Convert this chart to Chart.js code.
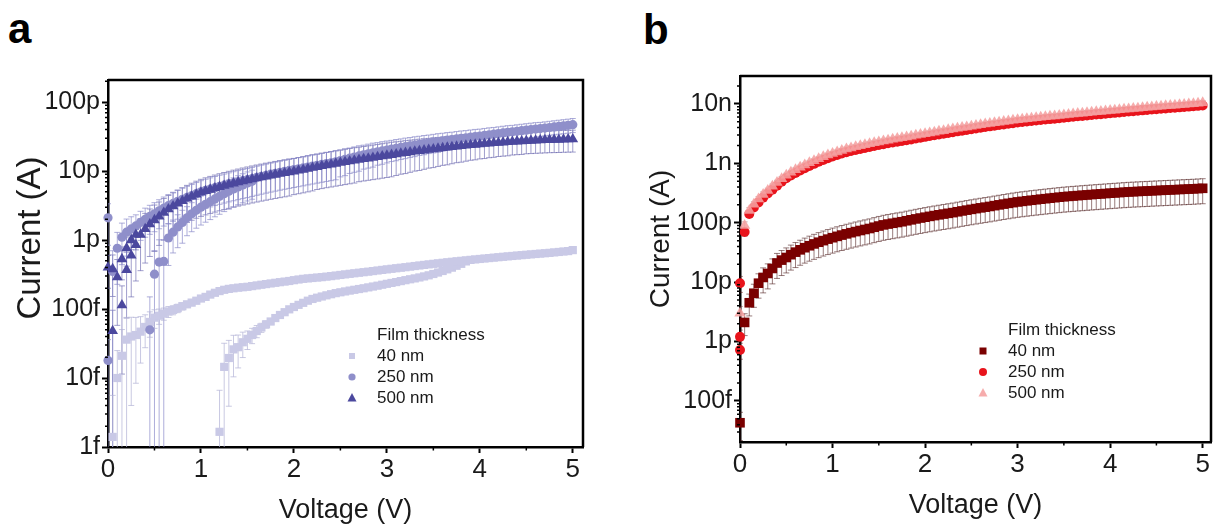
<!DOCTYPE html>
<html>
<head>
<meta charset="utf-8">
<script src="https://cdn.jsdelivr.net/npm/chart.js@4.4.1/dist/chart.umd.min.js"></script>
<style>
  body { margin: 0; background: #fff; width: 1213px; height: 527px; overflow: hidden; position: relative;
         font-family: "Liberation Sans", Arial, sans-serif; }
  .panel { position: absolute; top: 0; }
  .tag { position: absolute; font-weight: bold; font-size: 42px; line-height: 42px; color: #000; }
</style>
</head>
<body>
<div class="tag" style="left:8px;top:8px">a</div>
<div class="tag" style="left:643px;top:9px">b</div>
<div class="panel" style="left:0px"><canvas id="chartA" width="600" height="527"></canvas></div>
<div class="panel" style="left:607px"><canvas id="chartB" width="606" height="527"></canvas></div>
<script>
// spänning (V), samma för alla huvudserier
const voltage = [
  0, 0.05, 0.1, 0.15, 0.2, 0.25, 0.3, 0.35, 0.4, 0.45,
  0.5, 0.55, 0.6, 0.65, 0.7, 0.75, 0.8, 0.85, 0.9, 0.95,
  1, 1.05, 1.1, 1.15, 1.2, 1.25, 1.3, 1.35, 1.4, 1.45,
  1.5, 1.55, 1.6, 1.65, 1.7, 1.75, 1.8, 1.85, 1.9, 1.95,
  2, 2.05, 2.1, 2.15, 2.2, 2.25, 2.3, 2.35, 2.4, 2.45,
  2.5, 2.55, 2.6, 2.65, 2.7, 2.75, 2.8, 2.85, 2.9, 2.95,
  3, 3.05, 3.1, 3.15, 3.2, 3.25, 3.3, 3.35, 3.4, 3.45,
  3.5, 3.55, 3.6, 3.65, 3.7, 3.75, 3.8, 3.85, 3.9, 3.95,
  4, 4.05, 4.1, 4.15, 4.2, 4.25, 4.3, 4.35, 4.4, 4.45,
  4.5, 4.55, 4.6, 4.65, 4.7, 4.75, 4.8, 4.85, 4.9, 4.95,
  5
];

// Panel a, ström i pA
const a40 = [
  null, 0.0014, 0.010, 0.021, 0.036, 0.040, 0.042, 0.047, 0.055, 0.065,
  0.075, 0.080, 0.086, 0.092, 0.097, 0.103, 0.110, 0.117, 0.124, 0.132,
  0.142, 0.150, 0.162, 0.172, 0.182, 0.190, 0.196, 0.200, 0.204, 0.207,
  0.210, 0.215, 0.220, 0.225, 0.230, 0.235, 0.240, 0.245, 0.250, 0.255,
  0.262, 0.268, 0.274, 0.278, 0.282, 0.286, 0.290, 0.295, 0.300, 0.306,
  0.312, 0.318, 0.324, 0.330, 0.336, 0.342, 0.348, 0.355, 0.362, 0.369,
  0.376, 0.383, 0.390, 0.397, 0.404, 0.412, 0.420, 0.428, 0.436, 0.444,
  0.452, 0.460, 0.468, 0.476, 0.484, 0.492, 0.500, 0.508, 0.516, 0.524,
  0.532, 0.540, 0.548, 0.556, 0.564, 0.572, 0.580, 0.588, 0.596, 0.604,
  0.612, 0.620, 0.628, 0.636, 0.644, 0.652, 0.662, 0.672, 0.682, 0.692,
  0.715
];
const a40Err = [ // relativ felmarginal i %
  0, 300, 150, 140, 110, 90, 80, 65, 50, 40,
  30, 25, 20, 18, 15, 14, 12, 10, 10, 10,
  8, 8, 8, 8, 8, 8, 8, 8, 8, 8,
  6, 6, 6, 6, 6, 6, 6, 6, 6, 6,
  6, 6, 6, 6, 6, 6, 6, 6, 6, 6,
  6, 6, 6, 6, 6, 6, 6, 6, 6, 6,
  6, 6, 6, 6, 6, 6, 6, 6, 6, 6,
  6, 6, 6, 6, 6, 6, 6, 6, 6, 6,
  6, 6, 6, 6, 6, 6, 6, 6, 6, 6,
  6, 6, 6, 6, 6, 6, 6, 6, 6, 6,
  6
];
// andra svepet (nedre grenen) för 40 nm
const a40RetV = [
  1.2, 1.25, 1.3, 1.35, 1.4, 1.45,
  1.5, 1.55, 1.6, 1.65, 1.7, 1.75, 1.8, 1.85, 1.9, 1.95,
  2, 2.05, 2.1, 2.15, 2.2, 2.25, 2.3, 2.35, 2.4, 2.45,
  2.5, 2.55, 2.6, 2.65, 2.7, 2.75, 2.8, 2.85, 2.9, 2.95,
  3, 3.05, 3.1, 3.15, 3.2, 3.25, 3.3, 3.35, 3.4, 3.45,
  3.5, 3.55, 3.6, 3.65, 3.7, 3.75, 3.8, 3.85
];
const a40RetI = [
  0.00166, 0.0145, 0.0195, 0.026, 0.028, 0.033,
  0.037, 0.042, 0.048, 0.054, 0.060, 0.066, 0.074, 0.082, 0.090, 0.099,
  0.107, 0.115, 0.123, 0.132, 0.140, 0.146, 0.152, 0.158, 0.164, 0.170,
  0.175, 0.180, 0.185, 0.190, 0.195, 0.200, 0.206, 0.212, 0.218, 0.225,
  0.232, 0.239, 0.246, 0.254, 0.262, 0.270, 0.278, 0.287, 0.297, 0.308,
  0.322, 0.338, 0.356, 0.376, 0.398, 0.424, 0.452, 0.490
];
const a40RetErr = [
  300, 120, 80, 60, 50, 40,
  30, 25, 20, 15, 12, 10, 10, 8, 8, 8,
  6, 6, 6, 6, 6, 6, 6, 6, 6, 6,
  6, 6, 6, 6, 6, 6, 6, 6, 6, 6,
  6, 6, 6, 6, 6, 6, 6, 6, 6, 6,
  6, 6, 6, 6, 6, 6, 6, 6
];

const a250 = [
  2.1, 0.35, 0.76, 1.1, 1.3, 1.45, 1.6, 1.8, 2.0, 2.2,
  2.4, 2.65, 2.9, 3.15, 3.4, 3.65, 3.9, 4.15, 4.4, 4.7,
  5.0, 5.25, 5.5, 5.75, 6.0, 6.25, 6.5, 6.75, 7.0, 7.25,
  7.5, 7.8, 8.1, 8.4, 8.7, 9.0, 9.3, 9.6, 9.9, 10.2,
  10.5, 10.8, 11.1, 11.45, 11.8, 12.15, 12.5, 12.85, 13.2, 13.6,
  14.2, 14.8, 15.4, 16.0, 16.6, 17.2, 17.8, 18.4, 19.0, 19.6,
  20.2, 20.8, 21.4, 22.0, 22.6, 23.2, 23.8, 24.4, 25.0, 25.6,
  26.2, 26.8, 27.4, 28.0, 28.6, 29.2, 29.8, 30.4, 31.0, 31.6,
  32.2, 32.9, 33.6, 34.3, 35.0, 35.7, 36.4, 37.1, 37.8, 38.5,
  39.2, 39.9, 40.6, 41.3, 42.0, 42.8, 43.6, 44.4, 45.2, 46.0,
  47.0
];
const a250Err = [
  60, 100, 70, 60, 55, 50, 45, 45, 45, 45,
  45, 45, 45, 45, 45, 45, 45, 45, 45, 45,
  45, 45, 45, 45, 45, 45, 45, 45, 45, 45,
  45, 45, 45, 45, 45, 45, 45, 45, 45, 45,
  45, 45, 45, 45, 45, 45, 45, 45, 45, 45,
  42, 42, 40, 40, 40, 38, 38, 38, 36, 36,
  35, 34, 34, 33, 33, 32, 32, 31, 31, 30,
  30, 30, 29, 29, 28, 28, 28, 27, 27, 27,
  26, 26, 26, 25, 25, 25, 25, 24, 24, 24,
  24, 24, 24, 23, 23, 23, 23, 23, 23, 23,
  23
];
const a250RetV = [0, 0.45, 0.5, 0.55, 0.6, 0.65, 0.7, 0.75, 0.8, 0.85, 0.9, 0.95,
  1, 1.05, 1.1, 1.15, 1.2, 1.25, 1.3, 1.35, 1.4, 1.45, 1.5, 1.55];
const a250RetI = [0.018, 0.05, 0.32, 0.48, 0.49, 1.07, 1.3, 1.55, 1.8, 2.1, 2.4, 2.7,
  3.0, 3.3, 3.6, 3.95, 4.3, 4.7, 5.1, 5.5, 5.9, 6.3, 6.7, 7.1];
const a250RetErr = [100, 200, 120, 110, 105, 60, 50, 50, 50, 45, 45, 45,
  45, 45, 45, 45, 45, 45, 45, 45, 45, 45, 45, 45];

const a500 = [
  0.40, 0.048, 0.29, 0.114, 0.37, 0.60, 0.85, 1.2, 1.45, 1.7,
  1.95, 2.2, 2.5, 2.8, 3.1, 3.4, 3.7, 4.0, 4.3, 4.6,
  4.9, 5.15, 5.4, 5.65, 5.9, 6.15, 6.4, 6.65, 6.9, 7.15,
  7.4, 7.65, 7.9, 8.15, 8.4, 8.65, 8.9, 9.15, 9.4, 9.65,
  9.9, 10.2, 10.5, 10.85, 11.2, 11.5, 11.85, 12.2, 12.5, 12.85,
  13.2, 13.55, 13.9, 14.25, 14.6, 14.95, 15.3, 15.65, 16.0, 16.4,
  16.8, 17.2, 17.6, 18.0, 18.4, 18.8, 19.2, 19.6, 20.0, 20.4,
  20.8, 21.2, 21.6, 22.0, 22.4, 22.8, 23.2, 23.55, 23.9, 24.25,
  24.6, 24.9, 25.2, 25.5, 25.8, 26.1, 26.4, 26.7, 27.0, 27.2,
  27.4, 27.6, 27.8, 28.0, 28.2, 28.4, 28.5, 28.6, 28.8, 28.9,
  29.0
];
const a500Err = [
  50, 100, 80, 90, 80, 75, 70, 70, 68, 66,
  65, 62, 60, 58, 56, 55, 55, 55, 55, 55,
  55, 55, 55, 55, 55, 55, 55, 55, 55, 55,
  55, 55, 55, 55, 55, 55, 55, 55, 55, 55,
  54, 54, 54, 54, 54, 53, 53, 53, 53, 53,
  53, 53, 53, 53, 52, 52, 52, 52, 52, 52,
  52, 52, 51, 50, 50, 49, 48, 48, 47, 46,
  46, 45, 44, 44, 43, 42, 42, 41, 40, 40,
  39, 39, 38, 38, 37, 37, 37, 36, 36, 36,
  35, 35, 35, 35, 35, 35, 35, 35, 35, 35,
  35
];
const a500RetV = [0.05, 0.15, 0.2, 0.25, 0.3];
const a500RetI = [0.38, 0.53, 0.76, 1.0, 1.2];
const a500RetErr = [60, 50, 45, 40, 40];

// Panel b, ström i pA
const b40 = [
  0.043, 2.1, 4.5, 6.5, 9.6, 12, 14, 17, 21, 23.5,
  26, 29, 32, 35, 38, 41, 44, 47, 50, 53,
  56, 59, 62, 65, 68, 71, 74, 77, 80, 84,
  88, 92, 95, 98, 101, 104, 108, 112, 116, 120,
  124, 128, 132, 136, 140, 144, 148, 153, 158, 163,
  168, 173, 178, 183, 188, 194, 200, 206, 212, 218,
  224, 229, 234, 239, 244, 249, 254, 259, 264, 269,
  274, 278, 282, 286, 290, 294, 298, 302, 306, 310,
  314, 318, 322, 326, 330, 333, 336, 339, 342, 345,
  348, 351, 354, 357, 360, 363, 366, 369, 372, 376,
  380
];
const b40Err = [
  50, 40, 40, 42, 44, 45, 45, 45, 45, 45,
  45, 45, 45, 45, 45, 45, 45, 45, 45, 45,
  45, 45, 45, 45, 45, 45, 45, 45, 45, 45,
  45, 45, 45, 45, 45, 45, 45, 45, 45, 45,
  45, 45, 45, 45, 45, 45, 45, 45, 45, 45,
  45, 45, 45, 45, 45, 45, 45, 45, 45, 45,
  45, 45, 45, 45, 45, 45, 45, 45, 45, 45,
  45, 45, 45, 45, 45, 45, 45, 45, 45, 45,
  45, 45, 45, 45, 45, 45, 45, 45, 45, 45,
  45, 45, 45, 45, 45, 45, 45, 45, 45, 45,
  45
];
const b250 = [
  0.72, 70, 140, 180, 220, 265, 310, 360, 420, 490,
  560, 625, 690, 760, 830, 900, 980, 1060, 1140, 1220,
  1300, 1380, 1460, 1540, 1610, 1680, 1750, 1820, 1890, 1960,
  2030, 2100, 2170, 2240, 2310, 2380, 2450, 2530, 2610, 2700,
  2790, 2880, 2970, 3060, 3150, 3250, 3350, 3450, 3550, 3650,
  3750, 3860, 3970, 4080, 4190, 4300, 4410, 4520, 4630, 4740,
  4850, 4950, 5050, 5150, 5250, 5350, 5450, 5550, 5650, 5750,
  5850, 5960, 6070, 6180, 6290, 6400, 6510, 6620, 6730, 6840,
  6950, 7070, 7190, 7310, 7430, 7550, 7670, 7790, 7910, 8030,
  8150, 8270, 8390, 8510, 8630, 8750, 8880, 9010, 9140, 9270,
  9400
];
const b250Err = [
  30, 15, 12, 10, 10, 10, 9, 9, 9, 9,
  8, 8, 8, 8, 8, 8, 8, 8, 8, 8,
  8, 8, 8, 8, 8, 8, 8, 8, 8, 8,
  8, 8, 8, 8, 8, 8, 8, 8, 8, 8,
  8, 8, 8, 8, 8, 8, 8, 8, 8, 8,
  8, 8, 8, 8, 8, 8, 8, 8, 8, 8,
  8, 8, 8, 8, 8, 8, 8, 8, 8, 8,
  8, 8, 8, 8, 8, 8, 8, 8, 8, 8,
  8, 8, 8, 8, 8, 8, 8, 8, 8, 8,
  8, 8, 8, 8, 8, 8, 8, 8, 8, 8,
  8
];
const b250RetV = [0, 0];
const b250RetI = [9.6, 1.2];
const b250RetErr = [30, 30];
const b500 = [
  3.0, 90, 160, 205, 250, 300, 350, 410, 475, 550,
  630, 705, 780, 860, 940, 1020, 1105, 1195, 1285, 1375,
  1465, 1555, 1645, 1735, 1815, 1895, 1975, 2055, 2135, 2215,
  2295, 2375, 2455, 2535, 2615, 2695, 2775, 2865, 2955, 3050,
  3150, 3250, 3350, 3450, 3550, 3660, 3770, 3880, 3990, 4100,
  4210, 4330, 4450, 4570, 4690, 4810, 4930, 5050, 5170, 5290,
  5410, 5520, 5630, 5740, 5850, 5960, 6070, 6180, 6290, 6400,
  6510, 6630, 6750, 6870, 6990, 7110, 7230, 7350, 7470, 7590,
  7710, 7840, 7970, 8100, 8230, 8360, 8490, 8620, 8750, 8880,
  9010, 9140, 9270, 9400, 9530, 9660, 9800, 9940, 10080, 10220,
  10500
];
const b500Err = b250Err;

// axlar
const xTickValues = [0, 1, 2, 3, 4, 5];
const aTickValues = [1e-15, 1e-14, 1e-13, 1e-12, 1e-11, 1e-10];
const aTickLabels = ['1f', '10f', '100f', '1p', '10p', '100p'];
const bTickValues = [1e-13, 1e-12, 1e-11, 1e-10, 1e-9, 1e-8];
const bTickLabels = ['100f', '1p', '10p', '100p', '1n', '10n'];
const legendTitle = 'Film thickness';
const legendLabels = ['40 nm', '250 nm', '500 nm'];

const pico = 1e-12;
const FONT = "'Liberation Sans', Arial, sans-serif";

function series(vs, vals, err, color, errColor, shape, radius) {
  return {
    data: vs.map((v, i) => ({ x: v, y: vals[i] === null ? null : vals[i] * pico })),
    errPct: err,
    errColor: errColor,
    showLine: false,
    pointStyle: shape,
    pointRadius: radius,
    pointHoverRadius: radius,
    pointBorderWidth: 0,
    backgroundColor: color,
    borderColor: color,
    clip: false
  };
}

// ritar en liten markör för legenden
function marker(ctx, style, x, y, r, color) {
  ctx.fillStyle = color;
  ctx.beginPath();
  if (style === 'rect') {
    ctx.rect(x - r, y - r, 2 * r, 2 * r);
  } else if (style === 'circle') {
    ctx.arc(x, y, r, 0, Math.PI * 2);
  } else {
    ctx.moveTo(x, y - r * 1.1);
    ctx.lineTo(x + r, y + r * 0.75);
    ctx.lineTo(x - r, y + r * 0.75);
    ctx.closePath();
  }
  ctx.fill();
}

const decor = {
  id: 'decor',
  // felstaplar under markörerna
  beforeDatasetsDraw(chart) {
    const { ctx, chartArea: a, scales: { x, y } } = chart;
    ctx.save();
    ctx.beginPath();
    ctx.rect(a.left, a.top, a.right - a.left, a.bottom - a.top);
    ctx.clip();
    ctx.lineWidth = 0.8;
    chart.data.datasets.forEach(ds => {
      ctx.strokeStyle = ds.errColor;
      ds.data.forEach((p, i) => {
        const pct = ds.errPct[i];
        if (p.y === null || !pct) return;
        const px = x.getPixelForValue(p.x);
        const hi = y.getPixelForValue(p.y * (1 + pct / 100));
        const loVal = p.y * (1 - pct / 100);
        const lo = loVal > y.min ? y.getPixelForValue(loVal) : a.bottom + 2;
        ctx.beginPath();
        ctx.moveTo(px, hi); ctx.lineTo(px, lo);
        ctx.moveTo(px - 3, hi); ctx.lineTo(px + 3, hi);
        if (loVal > y.min) { ctx.moveTo(px - 3, lo); ctx.lineTo(px + 3, lo); }
        ctx.stroke();
      });
    });
    ctx.restore();
  },
  afterDraw(chart, args, opts) {
    const { ctx, chartArea: a, scales: { x, y } } = chart;
    ctx.save();
    ctx.strokeStyle = '#000';
    // ram upptill och till höger
    ctx.lineWidth = 2.5;
    ctx.beginPath();
    ctx.moveTo(a.left, a.top); ctx.lineTo(a.right, a.top); ctx.lineTo(a.right, a.bottom);
    ctx.stroke();
    // små streck
    ctx.lineWidth = 1.5;
    ctx.beginPath();
    for (let d = Math.floor(Math.log10(y.min)); d <= Math.ceil(Math.log10(y.max)); d++) {
      for (let k = 2; k <= 9; k++) {
        const v = k * Math.pow(10, d);
        if (v <= y.min || v >= y.max) continue;
        const py = y.getPixelForValue(v);
        ctx.moveTo(a.left - 3, py); ctx.lineTo(a.left, py);
      }
    }
    for (let v = 0.5; v < x.max; v += 1) {
      const px = x.getPixelForValue(v);
      ctx.moveTo(px, a.bottom); ctx.lineTo(px, a.bottom + 3.5);
    }
    ctx.stroke();
    // y-axelns titel
    ctx.save();
    ctx.translate(opts.yTitle.x, opts.yTitle.y);
    ctx.rotate(-Math.PI / 2);
    ctx.fillStyle = '#1a1a1a';
    ctx.font = opts.yTitle.size + 'px ' + FONT;
    ctx.textAlign = 'center';
    ctx.textBaseline = 'middle';
    ctx.fillText('Current (A)', 0, 0);
    ctx.restore();
    // legend
    const lx = a.left + opts.dx, ly = a.top + opts.dy;
    ctx.fillStyle = '#1a1a1a';
    ctx.font = '17px ' + FONT;
    ctx.textBaseline = 'middle';
    ctx.textAlign = 'left';
    ctx.fillText(legendTitle, lx + 25, ly);
    opts.items.forEach((it, i) => {
      const iy = ly + 21 * (i + 1);
      marker(ctx, it.shape, lx, iy, it.r, it.color);
      ctx.fillStyle = '#1a1a1a';
      ctx.fillText(legendLabels[i], lx + 25, iy);
    });
    ctx.restore();
  }
};

function makeChart(id, cfg) {
  return new Chart(document.getElementById(id), {
    type: 'scatter',
    data: { datasets: cfg.datasets },
    options: {
      responsive: false,
      animation: false,
      events: [],
      layout: { autoPadding: false, padding: cfg.padding },
      plugins: {
        legend: { display: false },
        tooltip: { enabled: false },
        decor: cfg.legend
      },
      scales: {
        x: {
          type: 'linear', min: 0, max: cfg.xMax,
          afterBuildTicks: s => { s.ticks = xTickValues.map(v => ({ value: v })); },
          afterFit: s => { s.height = cfg.xHeight; },
          ticks: { font: { family: FONT, size: 26 }, color: '#1a1a1a', padding: 1, includeBounds: false },
          grid: { drawOnChartArea: false, drawTicks: true, tickLength: 6, tickWidth: 2, tickColor: '#000' },
          border: { display: true, color: '#000', width: 2.5 },
          title: { display: true, text: 'Voltage (V)', color: '#1a1a1a',
                   font: { family: FONT, size: 27 }, padding: { top: 0, bottom: cfg.xTitlePad } }
        },
        y: {
          type: 'logarithmic', min: cfg.yMin, max: cfg.yMax,
          afterBuildTicks: s => { s.ticks = cfg.tickValues.map(v => ({ value: v })); },
          afterFit: s => { s.width = cfg.yWidth; },
          ticks: {
            font: { family: FONT, size: 25 }, color: '#1a1a1a', padding: 2, autoSkip: false,
            callback: v => {
              const i = cfg.tickValues.findIndex(t => Math.abs(Math.log10(t) - Math.log10(v)) < 1e-6);
              return i < 0 ? '' : cfg.tickLabels[i];
            }
          },
          grid: { drawOnChartArea: false, drawTicks: true, tickLength: 6, tickWidth: 2, tickColor: '#000' },
          border: { display: true, color: '#000', width: 2.5 },
          title: { display: false }
        }
      }
    },
    plugins: [decor]
  });
}

// färger
const aColors = ['#c9c9e6', '#8f8fca', '#4b489e'];
const aErrColors = ['rgba(180,180,215,0.9)', 'rgba(135,135,200,0.85)', 'rgba(95,92,170,0.75)'];
const bColors = ['#7a0000', '#e8141c', 'rgba(245,160,160,0.88)'];
const bErrColors = ['rgba(70,20,20,0.7)', 'rgba(90,10,10,0.55)', 'rgba(120,40,40,0.45)'];

makeChart('chartA', {
  datasets: [
    series(voltage, a500, a500Err, aColors[2], aErrColors[2], 'triangle', 6.2),
    series(a500RetV, a500RetI, a500RetErr, aColors[2], aErrColors[2], 'triangle', 6.2),
    series(voltage, a250, a250Err, aColors[1], aErrColors[1], 'circle', 4.6),
    series(a250RetV, a250RetI, a250RetErr, aColors[1], aErrColors[1], 'circle', 4.6),
    series(voltage, a40, a40Err, aColors[0], aErrColors[0], 'rect', 5.8),
    series(a40RetV, a40RetI, a40RetErr, aColors[0], aErrColors[0], 'rect', 5.8)
  ],
  padding: { left: 0, top: 80, right: 17, bottom: 0 },
  xMax: 5.11, xHeight: 80, xTitlePad: 0,
  yMin: 1e-15, yMax: 2.09e-10, yWidth: 108,
  tickValues: aTickValues, tickLabels: aTickLabels,
  legend: { dx: 244, dy: 255, yTitle: { x: 31, y: 238, size: 33 }, items: [
    { shape: 'rect', r: 3, color: aColors[0] },
    { shape: 'circle', r: 3.6, color: aColors[1] },
    { shape: 'triangle', r: 4.5, color: aColors[2] }
  ] }
});

makeChart('chartB', {
  datasets: [
    series(voltage, b500, b500Err, bColors[2], bErrColors[2], 'triangle', 6.5),
    series(voltage, b250, b250Err, bColors[1], bErrColors[1], 'circle', 5),
    series(b250RetV, b250RetI, b250RetErr, bColors[1], bErrColors[1], 'circle', 5),
    series(voltage, b40, b40Err, bColors[0], bErrColors[0], 'rect', 6.8)
  ],
  padding: { left: 0, top: 76, right: 2, bottom: 0 },
  xMax: 5.09, xHeight: 85, xTitlePad: 5,
  yMin: 2.04e-14, yMax: 2.95e-8, yWidth: 133,
  tickValues: bTickValues, tickLabels: bTickLabels,
  legend: { dx: 243, dy: 254, yTitle: { x: 54, y: 239, size: 28 }, items: [
    { shape: 'rect', r: 3.5, color: bColors[0] },
    { shape: 'circle', r: 4, color: bColors[1] },
    { shape: 'triangle', r: 4.5, color: bColors[2] }
  ] }
});
</script>
</body>
</html>
